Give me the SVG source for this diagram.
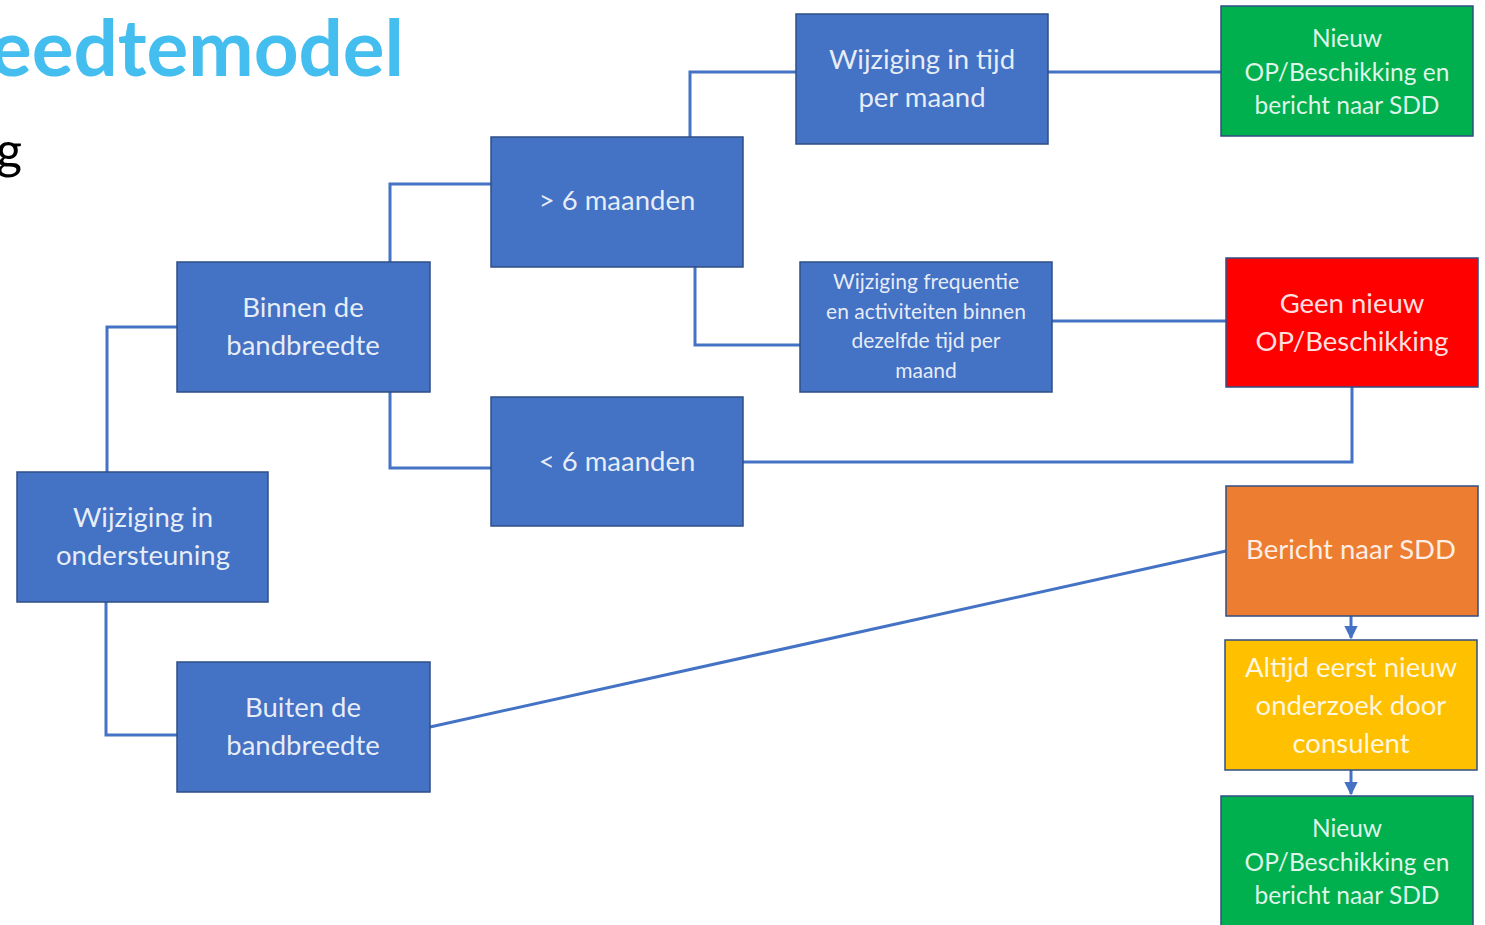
<svg xmlns="http://www.w3.org/2000/svg" width="1485" height="925" viewBox="0 0 1485 925">
<defs>
<style>
.box{stroke:#2f4f85;stroke-width:1.5}
.blue{fill:#4472c4}
.green{fill:#00b04f}
.red{fill:#ff0000}
.orange{fill:#ed7d31}
.yellow{fill:#ffc000}
.t{font-family:Lato,"Open Sans","Liberation Sans",sans-serif;fill:#ffffff;fill-opacity:0.88;text-anchor:middle}
.big{font-size:27.5px}
.mid{font-size:24.5px}
.small{font-size:21px}
.conn{fill:none;stroke:#4472c4;stroke-width:3}
</style>
<marker id="arr" viewBox="0 0 10 10" refX="9" refY="5" markerWidth="4.5" markerHeight="4.5" orient="auto" markerUnits="strokeWidth">
<path d="M0,0 L10,5 L0,10 Z" fill="#4472c4"/>
</marker>
</defs>
<rect width="1485" height="925" fill="#ffffff"/>
<text x="-10" y="76" font-family="Lato,'Open Sans','Liberation Sans',sans-serif" font-weight="bold" font-size="78" fill="#44bdef" textLength="414" lengthAdjust="spacingAndGlyphs">eedtemodel</text>
<text x="-4" y="168" font-family="Lato,'Open Sans','Liberation Sans',sans-serif" font-size="50" fill="#000000">g</text>
<g id="connectors">
<path class="conn" d="M690,137 V72 H796"/>
<path class="conn" d="M1048,72 H1221"/>
<path class="conn" d="M491,184 H390 V262"/>
<path class="conn" d="M695,267 V345 H800"/>
<path class="conn" d="M1052,321 H1226"/>
<path class="conn" d="M390,392 V468 H491"/>
<path class="conn" d="M743,462 H1352 V387"/>
<path class="conn" d="M107,472 V327 H177"/>
<path class="conn" d="M106,602 V735 H177"/>
<path class="conn" d="M430,727 L1226,551"/>
<path class="conn" d="M1351,616 V638" marker-end="url(#arr)"/>
<path class="conn" d="M1351,770 V794" marker-end="url(#arr)"/>
</g>
<g id="n-tijd"><rect class="box blue" x="796" y="14" width="252" height="130"/><text class="t big" x="922" y="69">Wijziging in tijd</text><text class="t big" x="922" y="107">per maand</text></g>
<g id="n-nieuw1"><rect class="box green" x="1221" y="6" width="252" height="130"/><text class="t mid" x="1347" y="47">Nieuw</text><text class="t mid" x="1347" y="81">OP/Beschikking en</text><text class="t mid" x="1347" y="114">bericht naar SDD</text></g>
<g id="n-gt6"><rect class="box blue" x="491" y="137" width="252" height="130"/><text class="t big" x="617" y="210">&gt; 6 maanden</text></g>
<g id="n-binnen"><rect class="box blue" x="177" y="262" width="253" height="130"/><text class="t big" x="303" y="317">Binnen de</text><text class="t big" x="303" y="355">bandbreedte</text></g>
<g id="n-freq"><rect class="box blue" x="800" y="262" width="252" height="130"/><text class="t small" x="926" y="289">Wijziging frequentie</text><text class="t small" x="926" y="319">en activiteiten  binnen</text><text class="t small" x="926" y="348">dezelfde tijd per</text><text class="t small" x="926" y="378">maand</text></g>
<g id="n-geen"><rect class="box red" x="1226" y="258" width="252" height="129"/><text class="t big" x="1352" y="313">Geen nieuw</text><text class="t big" x="1352" y="351">OP/Beschikking</text></g>
<g id="n-lt6"><rect class="box blue" x="491" y="397" width="252" height="129"/><text class="t big" x="617" y="471">&lt; 6 maanden</text></g>
<g id="n-onder"><rect class="box blue" x="17" y="472" width="251" height="130"/><text class="t big" x="143" y="527">Wijziging in</text><text class="t big" x="143" y="565">ondersteuning</text></g>
<g id="n-bericht"><rect class="box orange" x="1226" y="486" width="252" height="130"/><text class="t big" x="1351" y="559">Bericht naar SDD</text></g>
<g id="n-altijd"><rect class="box yellow" x="1225" y="640" width="252" height="130"/><text class="t big" x="1351" y="677">Altijd eerst nieuw</text><text class="t big" x="1351" y="715">onderzoek door</text><text class="t big" x="1351" y="753">consulent</text></g>
<g id="n-buiten"><rect class="box blue" x="177" y="662" width="253" height="130"/><text class="t big" x="303" y="717">Buiten de</text><text class="t big" x="303" y="755">bandbreedte</text></g>
<g id="n-nieuw2"><rect class="box green" x="1221" y="796" width="252" height="140"/><text class="t mid" x="1347" y="837">Nieuw</text><text class="t mid" x="1347" y="871">OP/Beschikking en</text><text class="t mid" x="1347" y="904">bericht naar SDD</text></g>
</svg>
